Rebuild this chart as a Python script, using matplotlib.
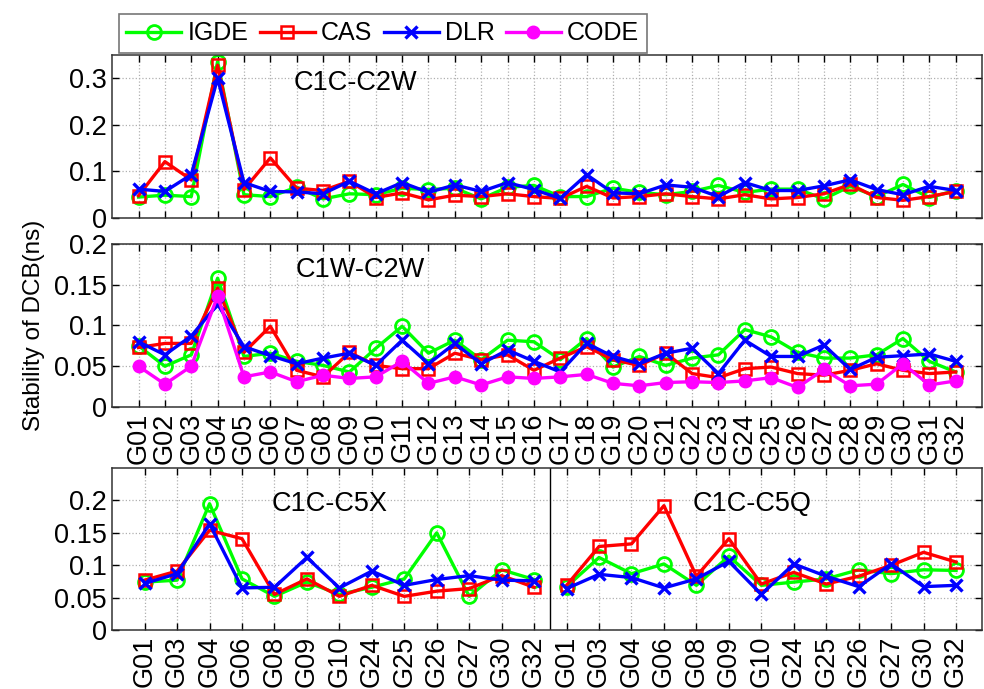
import matplotlib
matplotlib.use("Agg")
import matplotlib.pyplot as plt
from matplotlib.ticker import FuncFormatter

plt.rcParams['font.family'] = ['Liberation Sans', 'DejaVu Sans']

# satellites for the two upper panels
prn_all = ['G%02d' % i for i in range(1, 33)]

# C1C-C2W
c2w_igde = [0.045, 0.049, 0.046, 0.336, 0.050, 0.046, 0.066, 0.041, 0.052, 0.050,
            0.064, 0.061, 0.064, 0.041, 0.066, 0.070, 0.046, 0.046, 0.064, 0.055,
            0.050, 0.057, 0.070, 0.055, 0.062, 0.062, 0.041, 0.068, 0.046, 0.072,
            0.044, 0.059]
c2w_cas = [0.048, 0.121, 0.082, 0.328, 0.061, 0.129, 0.064, 0.059, 0.079, 0.044,
           0.054, 0.039, 0.049, 0.046, 0.052, 0.046, 0.042, 0.068, 0.043, 0.046,
           0.052, 0.046, 0.041, 0.050, 0.041, 0.044, 0.052, 0.072, 0.044, 0.038,
           0.046, 0.057]
c2w_dlr = [0.062, 0.057, 0.093, 0.300, 0.076, 0.057, 0.056, 0.052, 0.079, 0.052,
           0.076, 0.055, 0.071, 0.057, 0.076, 0.061, 0.042, 0.093, 0.054, 0.052,
           0.071, 0.066, 0.046, 0.076, 0.059, 0.059, 0.069, 0.082, 0.061, 0.050,
           0.068, 0.059]

# C1W-C2W
c1w_igde = [0.075, 0.050, 0.064, 0.158, 0.062, 0.066, 0.056, 0.051, 0.043, 0.072,
            0.099, 0.066, 0.082, 0.058, 0.082, 0.080, 0.058, 0.084, 0.049, 0.062,
            0.051, 0.060, 0.064, 0.095, 0.086, 0.067, 0.060, 0.060, 0.064, 0.084,
            0.056, 0.043]
c1w_cas = [0.073, 0.078, 0.078, 0.146, 0.067, 0.099, 0.045, 0.037, 0.067, 0.051,
           0.047, 0.047, 0.066, 0.058, 0.064, 0.045, 0.060, 0.074, 0.058, 0.051,
           0.066, 0.041, 0.036, 0.047, 0.049, 0.041, 0.039, 0.045, 0.053, 0.045,
           0.041, 0.043]
c1w_dlr = [0.080, 0.064, 0.087, 0.126, 0.074, 0.063, 0.053, 0.060, 0.066, 0.051,
           0.082, 0.053, 0.078, 0.053, 0.070, 0.056, 0.043, 0.078, 0.062, 0.053,
           0.066, 0.072, 0.041, 0.082, 0.062, 0.062, 0.076, 0.046, 0.061, 0.063,
           0.065, 0.056]
c1w_code = [0.050, 0.028, 0.050, 0.136, 0.037, 0.043, 0.031, 0.039, 0.035, 0.037,
            0.056, 0.029, 0.037, 0.027, 0.037, 0.035, 0.037, 0.040, 0.029, 0.026,
            0.030, 0.031, 0.030, 0.032, 0.036, 0.024, 0.046, 0.026, 0.028, 0.053,
            0.027, 0.032]

# satellites with L5 signals
prn_l5 = ['G01', 'G03', 'G04', 'G06', 'G08', 'G09', 'G10', 'G24', 'G25', 'G26',
          'G27', 'G30', 'G32']

# C1C-C5X
c5x_igde = [0.074, 0.077, 0.195, 0.079, 0.052, 0.074, 0.055, 0.066, 0.079, 0.150,
            0.052, 0.093, 0.078]
c5x_cas = [0.077, 0.091, 0.154, 0.141, 0.055, 0.079, 0.052, 0.069, 0.052, 0.060,
           0.064, 0.084, 0.066]
c5x_dlr = [0.072, 0.087, 0.164, 0.065, 0.066, 0.112, 0.065, 0.091, 0.069, 0.078,
           0.084, 0.077, 0.076]

# C1C-C5Q
c5q_igde = [0.067, 0.112, 0.087, 0.102, 0.069, 0.114, 0.069, 0.074, 0.079, 0.093,
            0.087, 0.093, 0.092]
c5q_cas = [0.069, 0.129, 0.133, 0.192, 0.083, 0.141, 0.071, 0.089, 0.071, 0.083,
           0.100, 0.120, 0.105]
c5q_dlr = [0.064, 0.086, 0.081, 0.065, 0.079, 0.106, 0.055, 0.102, 0.083, 0.067,
           0.102, 0.067, 0.069]

GREEN = '#00ff00'
RED = '#ff0000'
BLUE = '#0000ff'
MAGENTA = '#ff00ff'
LW = 2.4
FS = 19.5

styles = {
    'IGDE': dict(color=GREEN, marker='o', markersize=10, markerfacecolor='none',
                 markeredgewidth=2, lw=LW),
    'CAS': dict(color=RED, marker='s', markersize=8, markerfacecolor='none',
                markeredgewidth=1.8, lw=LW),
    'DLR': dict(color=BLUE, marker='x', markersize=8, markeredgewidth=2.4, lw=LW),
    'CODE': dict(color=MAGENTA, marker='o', markersize=9, lw=LW),
}


def fmt(v, pos):
    return '%g' % v


def style_axis(ax):
    ax.grid(True, linestyle=':', color='#b0b0b0', linewidth=0.9)
    ax.set_axisbelow(True)
    ax.tick_params(direction='in', top=True, right=True, length=5,
                   labelsize=FS, width=1, pad=4)
    ax.yaxis.set_major_formatter(FuncFormatter(fmt))
    for sp in ax.spines.values():
        sp.set_color('#333333')
        sp.set_linewidth(1.1)


fig = plt.figure(figsize=(9.84, 6.89), dpi=100)

left = 0.114
width = 0.884

# top panel
ax1 = fig.add_axes([left, 0.6836, width, 0.2366])
x32 = list(range(1, 33))
ax1.plot(x32, c2w_igde, label='IGDE', **styles['IGDE'])
ax1.plot(x32, c2w_cas, label='CAS', **styles['CAS'])
ax1.plot(x32, c2w_dlr, label='DLR', **styles['DLR'])
ax1.set_xlim(0, 33)
ax1.set_ylim(0, 0.35)
ax1.set_yticks([0, 0.1, 0.2, 0.3])
ax1.set_xticks(x32)
ax1.set_xticklabels([])
style_axis(ax1)
ax1.text(0.28, 0.83, 'C1C-C2W', transform=ax1.transAxes, fontsize=19.5,
         ha='center', va='center')

# middle panel
ax2 = fig.add_axes([left, 0.4093, width, 0.2366])
ax2.plot(x32, c1w_igde, **styles['IGDE'])
ax2.plot(x32, c1w_cas, **styles['CAS'])
ax2.plot(x32, c1w_dlr, **styles['DLR'])
l_code, = ax2.plot(x32, c1w_code, label='CODE', **styles['CODE'])
ax2.set_xlim(0, 33)
ax2.set_ylim(0, 0.2)
ax2.set_yticks([0, 0.05, 0.1, 0.15, 0.2])
ax2.set_xticks(x32)
ax2.set_xticklabels(prn_all, rotation=90)
style_axis(ax2)
ax2.text(0.285, 0.84, 'C1W-C2W', transform=ax2.transAxes, fontsize=19.5,
         ha='center', va='center')
ax2.set_ylabel('Stability of DCB(ns)', fontsize=17.5, labelpad=6)

# bottom panel: C5X on the left half, C5Q on the right half
ax3 = fig.add_axes([left, 0.0856, width, 0.235])
n = len(prn_l5)
xa = list(range(1, n + 1))
xb = list(range(n + 1, 2 * n + 1))
ax3.plot(xa, c5x_igde, **styles['IGDE'])
ax3.plot(xa, c5x_cas, **styles['CAS'])
ax3.plot(xa, c5x_dlr, **styles['DLR'])
ax3.plot(xb, c5q_igde, **styles['IGDE'])
ax3.plot(xb, c5q_cas, **styles['CAS'])
ax3.plot(xb, c5q_dlr, **styles['DLR'])
ax3.axvline(n + 0.5, color='black', lw=1)
ax3.set_xlim(0, 2 * n + 0.8)
ax3.set_ylim(0, 0.25)
ax3.set_yticks([0, 0.05, 0.1, 0.15, 0.2])
ax3.set_xticks(xa + xb)
ax3.set_xticklabels(prn_l5 + prn_l5, rotation=90)
style_axis(ax3)
ax3.text(0.25, 0.78, 'C1C-C5X', transform=ax3.transAxes, fontsize=19.5,
         ha='center', va='center')
ax3.text(0.736, 0.78, 'C1C-C5Q', transform=ax3.transAxes, fontsize=19.5,
         ha='center', va='center')

# shared legend on top
handles = ax1.get_lines()[:3] + [l_code]
leg = fig.legend(handles=handles, labels=['IGDE', 'CAS', 'DLR', 'CODE'],
                 loc='upper left', bbox_to_anchor=(0.108, 0.998), ncol=4,
                 fontsize=18, frameon=True, fancybox=False, handlelength=2.2,
                 columnspacing=0.45, handletextpad=0.25, borderpad=0.3)
leg.get_frame().set_edgecolor('#555555')
leg.get_frame().set_linewidth(1.2)

fig.savefig('out.png', dpi=100)
